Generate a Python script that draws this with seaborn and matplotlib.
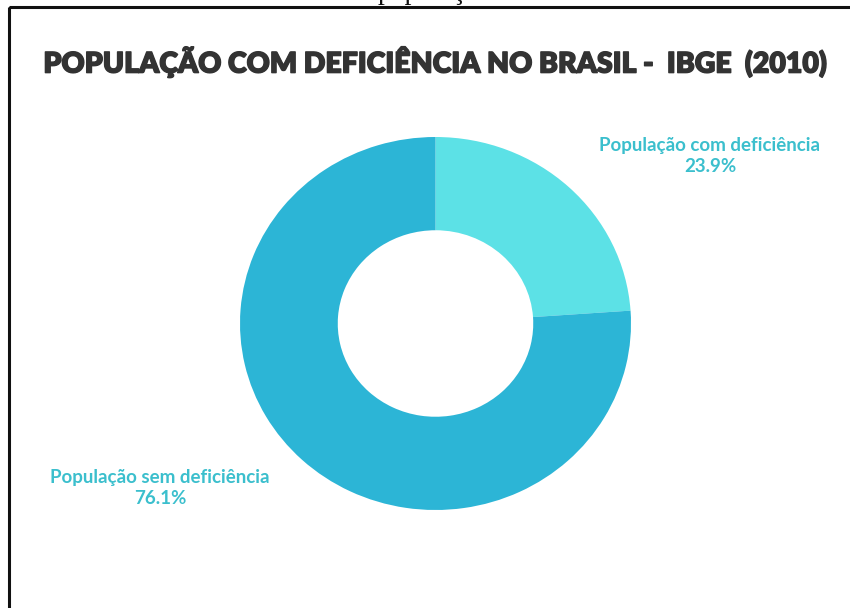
import matplotlib
matplotlib.use("Agg")
import matplotlib.pyplot as plt
import matplotlib.patheffects as pe
import seaborn as sns
from matplotlib.patches import Rectangle

categories = ["População com deficiência", "População sem deficiência"]
values = [23.9, 76.1]
colors = ["#5ce1e6", "#2cb5d6"]
title = "POPULAÇÃO COM DEFICIÊNCIA NO BRASIL -  IBGE  (2010)"
top_caption = "população"

sns.set_theme(style="white")
plt.rcParams["font.family"] = ["Lato", "DejaVu Sans"]

W, H = 850, 608
fig = plt.figure(figsize=(W / 100, H / 100), dpi=100)
fig.patch.set_facecolor("white")

# background axes in pixel coordinates (y downward)
bg = fig.add_axes([0, 0, 1, 1])
bg.set_xlim(0, W)
bg.set_ylim(H, 0)
bg.axis("off")

# frame (open at bottom and right)
bg.add_patch(Rectangle((9.5, 7), 900, 700, fill=False, edgecolor="#111111",
                       linewidth=2.2, clip_on=True))

# cut-off caption at very top (only descenders visible, as in the reference)
bg.text(435, -1, top_caption, ha="center", va="baseline",
        fontsize=20, family=["Liberation Serif", "DejaVu Serif"], color="#111111")

bg.text(436, 62, title, ha="center", va="center", fontsize=20.5,
        fontweight="heavy", color="#333333",
        path_effects=[pe.withStroke(linewidth=1.0, foreground="#333333")])

# donut axes
x0, x1, y0, y1 = 240, 631, 137, 510
pax = fig.add_axes([x0 / W, 1 - y1 / H, (x1 - x0) / W, (y1 - y0) / H])
wedges, _ = pax.pie(values, colors=colors, startangle=90, counterclock=False,
                    radius=1, wedgeprops=dict(width=0.5, edgecolor="none", linewidth=0))
pax.set_aspect("auto")
pax.set_xlim(-1, 1)
pax.set_ylim(-1, 1)
pax.axis("off")

label_pos = [(710, 146), (160, 478)]
for (lx, ly), cat, val in zip(label_pos, categories, values):
    bg.text(lx, ly, cat, ha="center", va="center", fontsize=13.5,
            fontweight="bold", color="#3bbfcd")
    bg.text(lx, ly + 21, f"{val:.1f}%", ha="center", va="center", fontsize=13.5,
            fontweight="bold", color="#3bbfcd")

fig.savefig("out.png", dpi=100, facecolor="white")
